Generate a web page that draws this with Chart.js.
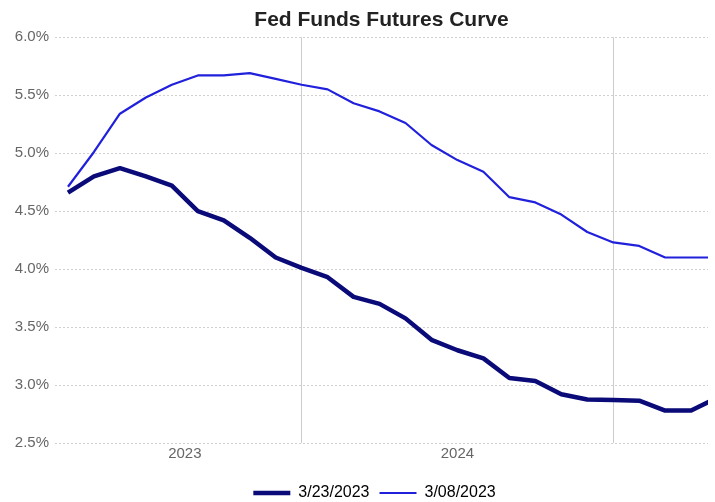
<!DOCTYPE html>
<html>
<head>
<meta charset="utf-8">
<script src="https://cdn.jsdelivr.net/npm/chart.js@4/dist/chart.umd.min.js"></script>
<style>
  html, body { margin: 0; padding: 0; background: #fff; }
  #wrap { width: 715px; height: 502px; }
</style>
</head>
<body>
<div id="wrap"><canvas id="curveChart"></canvas></div>
<script>
// Contract months, Apr 2023 onward (x = position in this list)
const months = ['Apr 23', 'May 23', 'Jun 23', 'Jul 23', 'Aug 23', 'Sep 23', 'Oct 23', 'Nov 23', 'Dec 23',
    'Jan 24', 'Feb 24', 'Mar 24', 'Apr 24', 'May 24', 'Jun 24', 'Jul 24', 'Aug 24', 'Sep 24', 'Oct 24',
    'Nov 24', 'Dec 24', 'Jan 25', 'Feb 25', 'Mar 25', 'Apr 25', 'May 25'];

// Implied rate (%) for each contract month
const curve0323 = [4.66, 4.80, 4.87, 4.80, 4.72, 4.50, 4.42, 4.27, 4.10, 4.01, 3.93, 3.76, 3.70, 3.575,
    3.39, 3.30, 3.23, 3.06, 3.035, 2.92, 2.875, 2.87, 2.865, 2.78, 2.78, 2.89];
const curve0308 = [4.71, 5.01, 5.34, 5.48, 5.59, 5.67, 5.67, 5.69, 5.64, 5.59, 5.55, 5.43, 5.36, 5.26,
    5.07, 4.94, 4.84, 4.62, 4.575, 4.47, 4.32, 4.23, 4.20, 4.10, 4.10, 4.10];

// Year labels sit mid-way over each year's months, grid lines at each January
const yearLabels = ['2023', '2024'];
const yearLabelPos = [4.5, 15];
const yearStartPos = [9, 21];

const seriesNames = ['3/23/2023', '3/08/2023'];

const toPoints = (vals) => vals.map((v, i) => ({ x: i, y: v }));

// nudge the legend row a little to the left, like the original
const legendShift = {
    id: 'legendShift',
    afterLayout(c) {
        c.legend.left -= 7;
        c.legend.right -= 7;
    }
};

const ctx = document.getElementById('curveChart').getContext('2d');
const chart = new Chart(ctx, {
    type: 'line',
    data: {
        datasets: [{
            label: seriesNames[0],
            data: toPoints(curve0323),
            borderColor: '#0a0a78',
            backgroundColor: '#0a0a78',
            borderWidth: 4.5,
            pointRadius: 0,
            tension: 0,
            borderJoinStyle: 'round'
        }, {
            label: seriesNames[1],
            data: toPoints(curve0308),
            borderColor: '#2121dc',
            backgroundColor: '#2121dc',
            borderWidth: 2.2,
            pointRadius: 0,
            tension: 0,
            borderJoinStyle: 'round'
        }]
    },
    plugins: [legendShift],
    options: {
        responsive: true,
        maintainAspectRatio: false,
        animation: false,
        layout: { padding: { left: 0, right: 7, top: 0, bottom: -9 } },
        plugins: {
            title: {
                display: true,
                text: 'Fed Funds Futures Curve',
                fullSize: false,
                color: '#222',
                font: { family: 'Liberation Sans, Arial, sans-serif', size: 21, weight: 'bold' },
                padding: { top: 8, bottom: 4 }
            },
            legend: {
                position: 'bottom',
                fullSize: false,
                labels: {
                    usePointStyle: true,
                    pointStyleWidth: 37,
                    padding: 10,
                    color: '#222',
                    font: { family: 'Liberation Sans, Arial, sans-serif', size: 16 },
                    generateLabels: (c) => c.data.datasets.map((ds, i) => ({
                        text: ds.label,
                        fillStyle: ds.borderColor,
                        strokeStyle: ds.borderColor,
                        lineWidth: ds.borderWidth,
                        pointStyle: 'line',
                        hidden: false,
                        datasetIndex: i
                    }))
                }
            },
            tooltip: { enabled: false }
        },
        scales: {
            x: {
                type: 'linear',
                min: -0.5,
                max: 24.65,
                border: { display: false },
                grid: {
                    drawTicks: false,
                    color: (c) => yearStartPos.includes(c.tick && c.tick.value) ? '#cccccc' : 'rgba(0,0,0,0)',
                    lineWidth: 1
                },
                afterBuildTicks: (scale) => {
                    const ticks = [];
                    yearLabelPos.forEach(v => ticks.push({ value: v }));
                    yearStartPos.forEach(v => ticks.push({ value: v }));
                    scale.ticks = ticks.sort((a, b) => a.value - b.value);
                },
                afterFit: (scale) => { scale.height = 32; },
                ticks: {
                    autoSkip: false,
                    maxRotation: 0,
                    padding: 2,
                    color: '#666',
                    font: { family: 'Liberation Sans, Arial, sans-serif', size: 15 },
                    callback: (v) => {
                        const k = yearLabelPos.indexOf(v);
                        return k >= 0 ? yearLabels[k] : '';
                    }
                }
            },
            y: {
                min: 2.5,
                max: 6.0,
                border: { display: false, dash: [2, 2] },
                grid: { drawTicks: false, color: '#d0d0d0', lineWidth: 1 },
                afterFit: (scale) => { scale.width = 55; },
                ticks: {
                    stepSize: 0.5,
                    padding: 6,
                    color: '#666',
                    font: { family: 'Liberation Sans, Arial, sans-serif', size: 15 },
                    callback: (v) => v.toFixed(1) + '%'
                }
            }
        }
    }
});
</script>
</body>
</html>
